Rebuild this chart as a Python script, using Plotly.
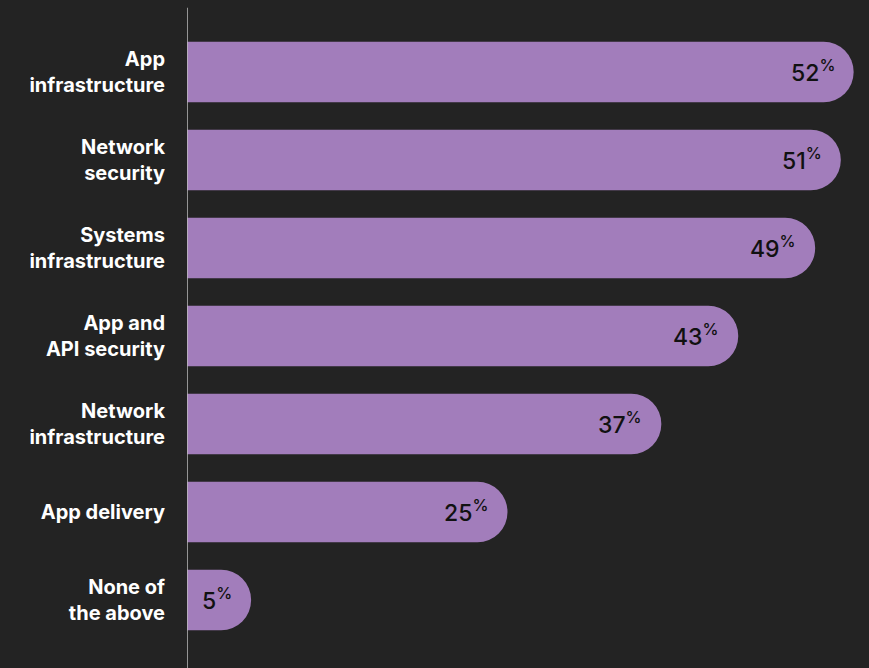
import plotly.graph_objects as go

categories = ["App<br>infrastructure", "Network<br>security", "Systems<br>infrastructure",
              "App and<br>API security", "Network<br>infrastructure", "App delivery",
              "None of<br>the above"]
values = [52, 51, 49, 43, 37, 25, 5]
value_labels = [f"{v}<sup>%</sup>" for v in values]

BG = "#232323"
BAR = "#a27dbb"

fig = go.Figure()
fig.add_trace(go.Bar(
    x=values, y=categories, orientation="h",
    marker=dict(color=BAR, cornerradius=30, line=dict(width=0)),
    width=0.69, hoverinfo="skip", showlegend=False,
))

for v, c, t in zip(values, categories, value_labels):
    fig.add_annotation(x=v, y=c, text=t, showarrow=False, xanchor="right",
                       xshift=-17, yshift=1,
                       font=dict(family="Inter", size=23, color="#111111", weight=500))

# vertical axis line
fig.add_shape(type="line", xref="x", yref="paper", x0=0, x1=0, y0=-0.04, y1=1.033,
              line=dict(color="#bdbdbd", width=1.5))

fig.update_layout(
    width=869, height=668,
    paper_bgcolor=BG, plot_bgcolor=BG,
    margin=dict(l=187, r=0, t=28, b=24),
    bargap=0.31,
    xaxis=dict(range=[0, 53.2], visible=False, fixedrange=True),
    yaxis=dict(autorange="reversed", showgrid=False, zeroline=False, showline=False,
               ticks="outside", ticklen=17, tickcolor="rgba(0,0,0,0)",
               tickfont=dict(family="Inter", size=20, color="white", weight="bold")),
    font=dict(family="Inter"),
)

fig.write_html("out.html", config={"displayModeBar": False},
               post_script="document.body.style.margin='0';document.body.style.background='#232323';")
